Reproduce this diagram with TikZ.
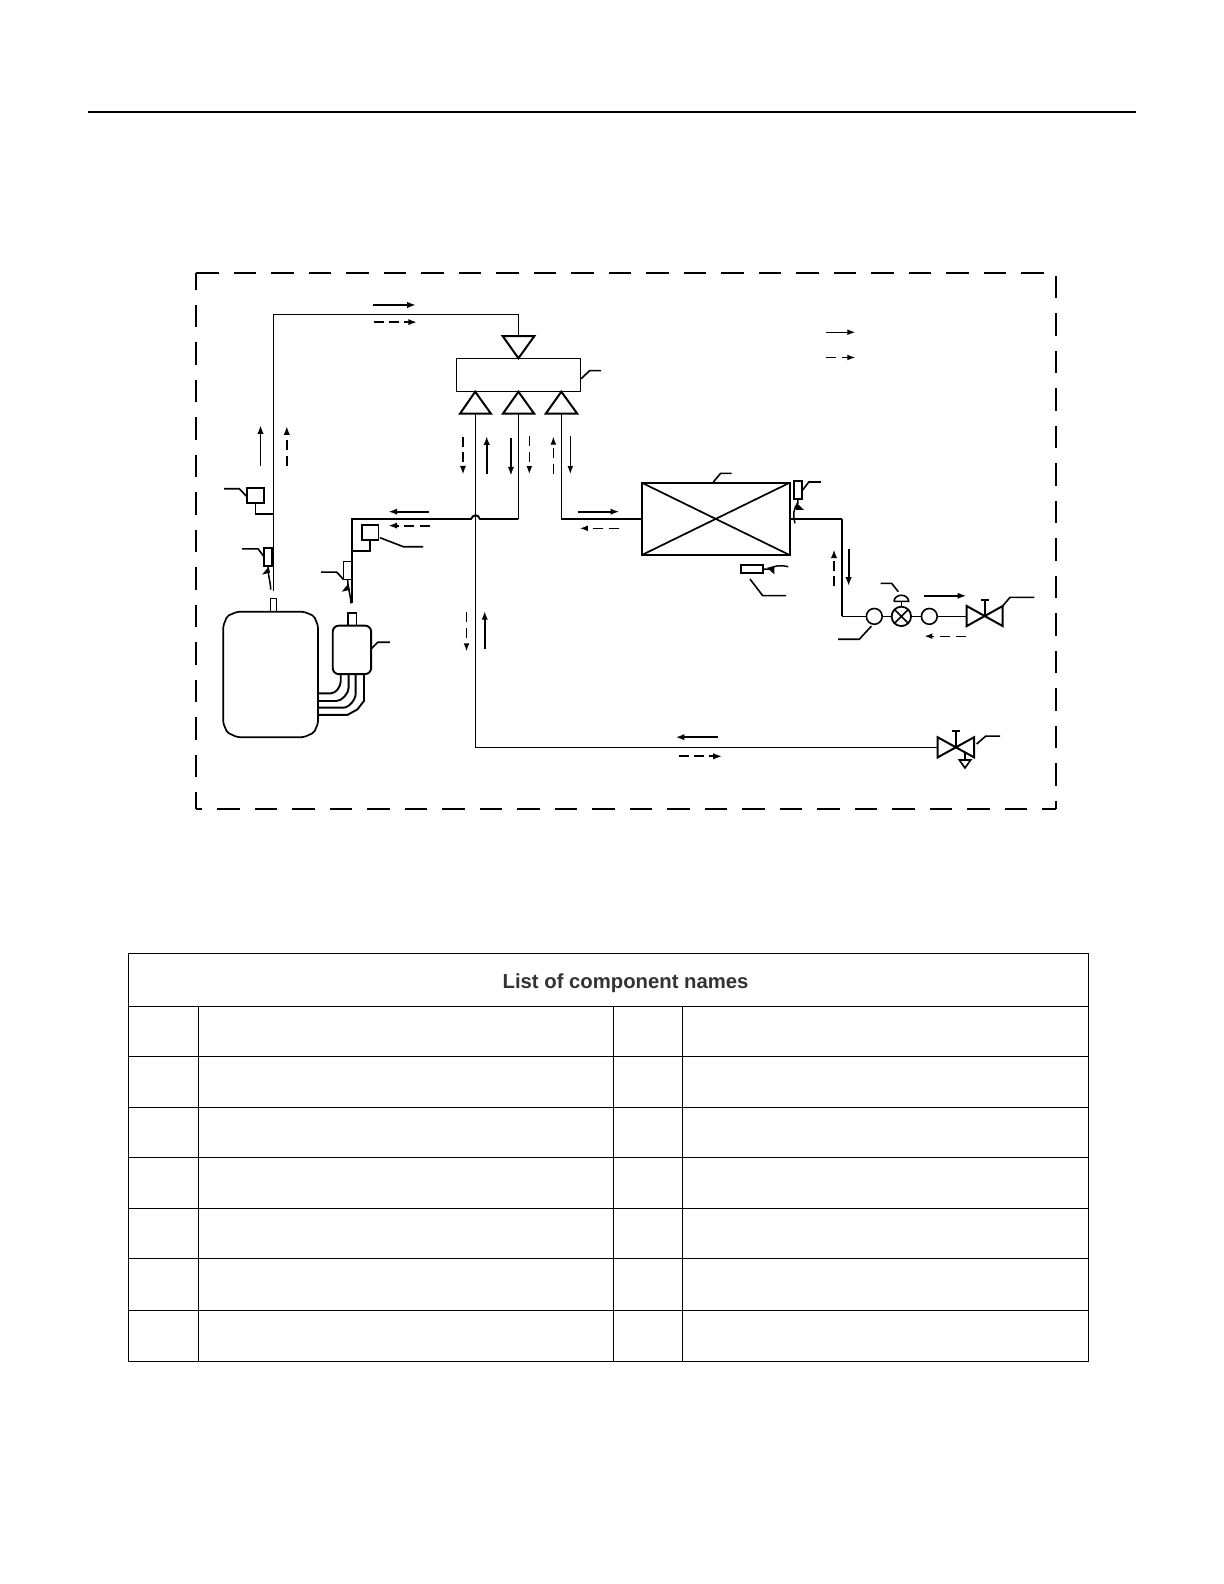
\documentclass[tikz,border=0pt]{standalone}
\usepackage{fontspec}
\setmainfont{Liberation Sans}
\usetikzlibrary{arrows.meta}
\tikzset{
  every node/.style={outer sep=0pt},
  thinl/.style={line width=0.6pt,black},
  thick2/.style={line width=0.95pt,black},
  flow/.style={line width=0.9pt,-{Latex[length=4.4pt,width=3.2pt]}},
  flowthin/.style={line width=0.6pt,-{Latex[length=4pt,width=2.9pt]}},
  dflow/.style={flow,dash pattern=on 5pt off 2.6pt},
  dflowthin/.style={flowthin,dash pattern=on 5pt off 3pt},
  lead/.style={line width=0.8pt},
  tbl/.style={line width=0.6pt,black},
  dashbox/.style={line width=0.95pt,dash pattern=on 11.25pt off 7.5pt},
  tri/.style={line width=1pt,line join=miter},
  sens/.style={draw,minimum width=4.2pt,minimum height=9.2pt,inner sep=0pt},
  psw/.style={draw,minimum width=8.3pt,minimum height=7.5pt,inner sep=0pt},
  filt/.style={draw,circle,line width=0.8pt,minimum size=7.9pt,inner sep=0pt},
}
\begin{document}
\begin{tikzpicture}[x=0.5049pt,y=-0.5049pt]
\useasboundingbox (0,0) rectangle (1212.12,1568.63);
\fill[white] (0,0) rectangle (1212.12,1568.63);
% top rule
\coordinate (ruleL) at (87,111); \coordinate (ruleR) at (1125,111);
\draw[line width=1pt] (ruleL) -- (ruleR);
% dashed boundary
\coordinate (bTL) at (194.1,270); \coordinate (bTR) at (1045.8,270);
\coordinate (bBL) at (194.1,801.5); \coordinate (bBR) at (1045.8,801.5);
\draw[dashbox] (bTL) -- (bTR);
\draw[dashbox,dash phase=2.6pt] (bTL) -- (bBL);
\draw[dashbox] (1045.8,273.3) -- (bBR);
\draw[dashbox,dash phase=8.25pt] (bBL) -- (bBR);
% legend arrows
\coordinate (lg1a) at (818,329); \coordinate (lg1b) at (847,329);
\coordinate (lg2a) at (818,354); \coordinate (lg2b) at (847,354);
\draw[flowthin] (lg1a) -- (lg1b);
\draw[dflowthin] (lg2a) -- (lg2b);
% compressor
\draw[line width=0.85pt,rounded corners=1pt] (235,605.8) -- (301,605.8) -- (311,610) -- (315,620) -- (315,716) -- (311,725.5) -- (301,730) -- (235,730) -- (225,725.5) -- (221,716) -- (221,620) -- (225,610) -- cycle;
\coordinate (compTop) at (270.8,605.8);
% outlet stub
\node[draw,line width=0.6pt,minimum width=3.2pt,minimum height=6.5pt,inner sep=0pt,anchor=south] (stub1) at (compTop) {};
% accumulator
\node[draw,line width=0.95pt,minimum width=19.2pt,minimum height=24.2pt,rounded corners=3pt,inner sep=0pt,anchor=north west] (acc) at (329.5,619.6) {};
\node[draw,line width=0.8pt,minimum width=4.3pt,minimum height=6.3pt,inner sep=0pt,anchor=south] (stub2) at (348.6,619.6) {};
% accumulator to compressor pipes
\draw[thick2] (337.4,667.8) -- (337.4,675) to[out=-90,in=0,looseness=0.8] (328,686.6) -- (315,686.6);
\draw[thick2] (345.3,667.8) -- (345.3,681) to[out=-90,in=0,looseness=0.8] (333,694.2) -- (315,694.2);
\draw[thick2] (352.2,667.8) -- (352.2,687) to[out=-90,in=0,looseness=0.8] (340,700.8) -- (315,700.8);
\draw[thick2] (360.5,667.8) -- (360.5,694) -- (354,702.5) -- (344,708) -- (315,708);
% discharge pipe
\coordinate (dischEnd) at (270.8,585);
\coordinate (topL) at (270.8,311.4); \coordinate (topR) at (513.4,311.4);
\draw[thinl] (dischEnd) -- (topL) -- (topR) -- (513.4,333);
% 4 way valve
\node[draw,line width=0.6pt,minimum width=62pt,minimum height=16.5pt,inner sep=0pt,anchor=north west] (fwv) at (452.1,355) {};
\draw[line width=0.9pt] (fwv.north east) -- (fwv.south east);
\draw[tri] (497.8,332.8) -- (529.2,332.8) -- (513.4,354.8) -- cycle;
\draw[tri] (455.5,409.7) -- (486.2,409.7) -- (470.6,387.9) -- cycle;
\draw[tri] (498,409.7) -- (529,409.7) -- (513.4,387.9) -- cycle;
\draw[tri] (540.4,409.7) -- (571.7,409.7) -- (555.9,387.9) -- cycle;
% pipes from the valve
\draw[thick2] (348.6,597) -- (348.6,514) -- (466.4,514) .. controls (468.5,509) and (473.5,509) .. (475.3,514) -- (513.4,514);
\draw[thinl] (513.4,409.7) -- (513.4,514);
\draw[thinl] (470.6,409.7) -- (470.6,740) -- (928.6,740);
\draw[thinl] (555.9,409.7) -- (555.9,514);
\draw[thick2] (555.9,514) -- (635.5,514);
% heat exchanger
\node[draw,line width=1pt,minimum width=74pt,minimum height=36.2pt,inner sep=0pt,anchor=north west] (hx) at (635.5,478) {};
\draw[line width=0.85pt] (hx.north west) -- (hx.south east) (hx.north east) -- (hx.south west);
\coordinate (corner) at (833.8,514);
\draw[thick2] (782.3,514) -- (corner);
\draw[thick2] (corner) -- (833.8,610.4);
\draw[thinl] (833.8,610.4) -- (858,610.4);
% expansion items
\node[filt] (f1) at (865.8,610.4) {};
\node[draw,circle,line width=0.9pt,minimum size=9.7pt,inner sep=0pt] (ev) at (892.6,610.4) {};
\node[filt] (f2) at (920.3,610.4) {};
\draw[line width=0.85pt] (ev.north west) -- (ev.south east) (ev.north east) -- (ev.south west);
\draw[thinl] (f1) -- (ev) (ev) -- (f2) (f2) -- (957.3,610.4);
\draw[line width=0.8pt] (ev.north) -- (892.6,595.6);
\draw[line width=0.8pt] (885.3,595.6) -- (899.8,595.6) arc[start angle=0,end angle=180,x radius=3.65pt,y radius=3.1pt] -- cycle;
% liquid valve
\coordinate (lv) at (975.4,610.4);
\draw[tri] (957.3,600.1) -- (957.3,620) -- (993,600.1) -- (993,620) -- cycle;
\draw[line width=0.85pt] (lv) -- (975.4,594.2) (971.5,594.2) -- (979.3,594.2);
% gas valve
\coordinate (gv) at (946.7,740);
\draw[tri] (928.6,730.1) -- (928.6,750) -- (964.6,730.1) -- (964.6,750) -- cycle;
\draw[line width=0.85pt] (gv) -- (946.7,723.6) (942.8,723.6) -- (950.6,723.6);
\draw[line width=0.85pt] (955.6,745) -- (955.6,752.6);
\draw[line width=0.8pt] (950,752.6) -- (961.3,752.6) -- (955.6,760.5) -- cycle;
% sensors
\node[psw,line width=1pt] (hps) at (252.9,490.5) {};
\draw[line width=0.85pt] (hps.south) -- (252.9,509) -- (270.8,509);
\node[sens,line width=0.9pt] (t1) at (265.5,551.5) {};
\node[psw,line width=0.7pt] (lps) at (366.7,527.5) {};
\draw[line width=0.85pt] (lps.south) -- (366.7,545.7) -- (348.6,545.7);
\node[sens,line width=0.5pt] (t2) at (344.3,564.8) {};
\node[sens,line width=0.8pt] (t3) at (790.2,485.2) {};
\node[draw,line width=0.9pt,minimum width=11pt,minimum height=4.3pt,inner sep=0pt] (t4) at (744.4,563.5) {};
% sensor bulbs
\draw[line width=0.75pt] (t1.south) .. controls (265,570) and (268,575) .. (268,584);
\fill (259.5,569) -- (266,561.5) -- (267.5,567) -- cycle;
\draw[line width=0.75pt] (t2.south) .. controls (344,581) and (347,588) .. (347.6,597.5);
\fill (338.4,586) -- (345,578) -- (346.5,584) -- cycle;
\draw[line width=0.75pt] (t3.south) -- (790.2,498.4) .. controls (786,502) and (785,510) .. (787.3,518.2);
\fill (796.2,505) -- (788.8,498) -- (787.8,505) -- cycle;
\draw[line width=0.75pt] (t4.east) -- (760.9,563.5) .. controls (765,561) and (771,559) .. (780.7,561.2);
\fill (766.8,568.8) -- (759.6,562.2) -- (767,561) -- cycle;
% leaders
\draw[lead] (222,484) -- (237,484) -- (244.6,492);
\draw[lead] (239.7,543.6) -- (255.7,543.6) -- (261.4,551.3);
\draw[lead] (317.9,566.5) -- (333.4,566.5) -- (340,573.7);
\draw[lead] (376.3,532.5) -- (399.4,541.4) -- (419,541.4);
\draw[lead] (368,642) -- (374,636) -- (386,636);
\draw[lead] (575.5,375) -- (584,367) -- (595,367);
\draw[lead] (706.4,477.3) -- (713.7,468.7) -- (724.6,468.7);
\draw[lead] (794.9,485.3) -- (800.9,477.3) -- (813,477.3);
\draw[lead] (742.7,573.4) -- (755.3,589.9) -- (778.4,589.9);
\draw[lead] (889.6,586) -- (883,577.7) -- (872.1,577.7);
\draw[lead] (863,620) -- (851,633) -- (830,633);
\draw[lead] (993,600.1) -- (1000.2,591.5) -- (1024.3,591.5);
\draw[lead] (967.2,736.8) -- (976.2,728.9) -- (990.3,728.9);
% flow arrows
\coordinate (a1) at (369,302); \coordinate (a1e) at (412,302);
\draw[flow] (a1) -- (a1e);
\coordinate (a2) at (370,319); \coordinate (a2e) at (413,319);
\draw[dflow] (a2) -- (a2e);
\coordinate (a3) at (258,461); \coordinate (a3e) at (258,421);
\draw[flow] (a3) -- (a3e);
\coordinate (a4) at (284,461); \coordinate (a4e) at (284,422);
\draw[dflow] (a4) -- (a4e);
\draw[dflow] (458.5,432.4) -- (458.5,470);
\draw[flow] (482,469.4) -- (482,431.8);
\draw[flow] (506,433.8) -- (506,471);
\draw[dflowthin] (524.2,431.8) -- (524.2,469.4);
\draw[dflowthin] (548,469.4) -- (548,432.4);
\draw[flowthin] (564.8,431.8) -- (564.8,469.4);
\draw[flow] (424.8,506.7) -- (384.6,506.7);
\draw[dflow] (425.5,520.5) -- (384.6,520.5);
\draw[flow] (572.7,506.7) -- (613.3,506.7);
\draw[dflowthin] (613.3,523.2) -- (574.3,523.2);
\draw[dflow] (825.9,580.3) -- (825.9,544);
\draw[flow] (840.4,544) -- (840.4,580.3);
\draw[flow] (915,590) -- (957,590);
\draw[dflowthin] (957,630) -- (915.5,630);
\draw[dflowthin] (462,606) -- (462,645);
\draw[flow] (480,643) -- (480,605);
\draw[flow] (711,730) -- (669,730);
\draw[dflow] (672,749) -- (715,749);
% table
\node[anchor=center,inner sep=0pt,text=black!80,font=\fontsize{10.15pt}{12pt}\bfseries] (title) at (619.5,973.5) {List of component names};
\draw[tbl] (127,944) rectangle (1078,1348);
\foreach \yy in {996.7,1046.2,1096.7,1146.3,1196.7,1246.3,1297.7} \draw[tbl] (127,\yy) -- (1078,\yy);
\foreach \xx in {196.5,607.5,675.5} \draw[tbl] (\xx,996.7) -- (\xx,1348);
\end{tikzpicture}
\end{document}
